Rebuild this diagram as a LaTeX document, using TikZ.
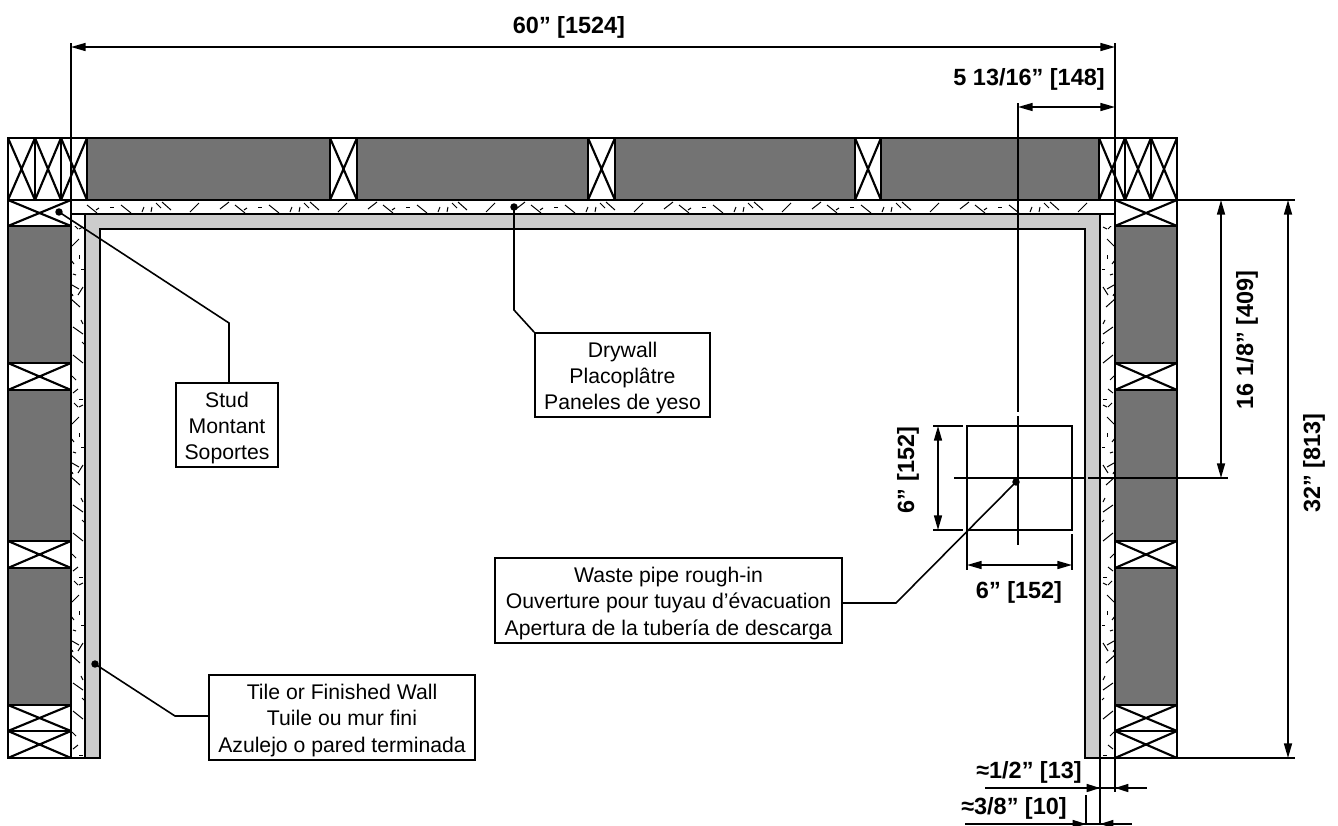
\documentclass[tikz,border=0pt]{standalone}
\usepackage{fontspec}
\setmainfont{Liberation Sans}
\usetikzlibrary{arrows.meta}
\definecolor{batt}{HTML}{737373}
\definecolor{tile}{HTML}{CCCCCC}
\tikzset{
  heavy/.style={line width=1.6pt,black},
  thin line/.style={line width=1.2pt,black},
  flick/.style={line width=0.75pt,black},
  dim/.style={line width=1.2pt,black,{Triangle[length=11pt,width=6pt]}-{Triangle[length=11pt,width=6pt]}},
  tipin/.style={line width=1.2pt,black,-{Triangle[length=10pt,width=6pt]}},
  leader/.style={line width=1.2pt,black},
  label box/.style={draw=black,line width=1.3pt,fill=white,align=center,inner sep=0pt,font=\fontsize{15.9}{19.6}\selectfont},
  dimtext/.style={font=\fontsize{17.6}{20}\selectfont\bfseries,inner sep=0pt},
  dot/.style={circle,fill=black,inner sep=0pt,minimum size=5.6pt},
}
\newcommand{\lstrut}{\rule{0pt}{16pt}}
\newcommand{\xbox}[4]{%
  \draw[heavy,fill=white] (#1,#2) rectangle (#3,#4);
  \draw[heavy] (#1,#2) -- (#3,#4) (#1,#4) -- (#3,#2);}
\newcommand{\batt}[4]{\draw[heavy,fill=batt] (#1,#2) rectangle (#3,#4);}
\newcommand{\flicks}{5/2/13/12, 26/1/30/5, 43/2/39/7, 53/3/57/7, 49/8/49/12, 57/8/55/12, 74/1/67/8, 83/8/87/8, 88/0/92/3, 97/10/97/13, 102/2/103/5, 113/1/117/8, 123/7/115/12, 122/1/124/2, 127/0/135/9, 148/10/152/12, 155/2/162/12, 170/11/172/13}
\newcommand{\topflicks}{18/12/27/3, 48/9/57/2, 63/5/73/13, 72/10/75/8, 86/7/90/7, 97/5/107/13, 118/12/120/7, 127/12/128/7, 132/3/137/8, 138/2/147/10}
\begin{document}
\begin{tikzpicture}[x=0.75pt,y=-0.75pt]
\useasboundingbox (0,0) rectangle (1338,825);
% drywall
\fill[white] (71,200) rectangle (1115,758);
% drywall flecks
\begin{scope}
  \clip (71,226) rectangle (85,758);
  \foreach \k in {-1,...,2}
    \foreach \a/\b/\c/\d in \flicks
      \draw[flick] (71+\b,350+\a+\k*178) -- (71+\d,350+\c+\k*178);
\end{scope}
\begin{scope}
  \clip (1100,226) rectangle (1115,758);
  \foreach \k in {-1,...,2}
    \foreach \a/\b/\c/\d in \flicks
      \draw[flick] (1115-\b,350+\a+\k*178) -- (1115-\d,350+\c+\k*178);
\end{scope}
\begin{scope}
  \clip (85,200) rectangle (1100,214);
  \foreach \k in {-2,...,5}
    \foreach \a/\b/\c/\d in \topflicks
      \draw[flick] (320+\a+\k*148,200+\b) -- (320+\c+\k*148,200+\d);
\end{scope}
% wall lines and tile
\draw[heavy] (71,200) -- (1115,200);
\draw[heavy,fill=tile] (85,758) -- (85,214) -- (1100,214) -- (1100,758) -- (1085,758) -- (1085,229) -- (100,229) -- (100,758) -- cycle;
\draw[heavy] (71,214) -- (85,214) (1100,214) -- (1115,214);
\draw[heavy] (71,200) -- (71,758) -- (85,758);
\draw[heavy] (1115,200) -- (1115,758) -- (1100,758);
% top band
\xbox{8}{138}{35}{200}\xbox{35}{138}{61}{200}\xbox{61}{138}{87}{200}
\batt{87}{138}{330}{200}
\xbox{330}{138}{357}{200}
\batt{357}{138}{588}{200}
\xbox{588}{138}{615}{200}
\batt{615}{138}{855}{200}
\xbox{855}{138}{881}{200}
\batt{881}{138}{1099}{200}
\xbox{1099}{138}{1125}{200}\xbox{1125}{138}{1151}{200}\xbox{1151}{138}{1177}{200}
% left wall
\xbox{8}{200}{71}{226}
\batt{8}{226}{71}{363}
\xbox{8}{363}{71}{390}
\batt{8}{390}{71}{541}
\xbox{8}{541}{71}{568}
\batt{8}{568}{71}{705}
\xbox{8}{705}{71}{731}\xbox{8}{731}{71}{758}
% right wall
\xbox{1115}{200}{1177}{226}
\batt{1115}{226}{1177}{363}
\xbox{1115}{363}{1177}{390}
\batt{1115}{390}{1177}{541}
\xbox{1115}{541}{1177}{568}
\batt{1115}{568}{1177}{705}
\xbox{1115}{705}{1177}{731}\xbox{1115}{731}{1177}{758}
% extension lines and dimensions
\coordinate (tl) at (71,47); \coordinate (tr) at (1115,47);
\draw[thin line] (71,43) -- (71,214);
\draw[thin line] (1115,43) -- (1115,200);
\draw[dim] (tl) -- (tr);
\node[dimtext] (d60) at (569,27) {60” [1524]};
\coordinate (pr) at (1115,107);
\draw[thin line] (1018,103) -- (1018,412) (1018,416) -- (1018,545);
\draw[dim] (1018,107) -- (pr);
\node[dimtext,anchor=east] (d513) at (1105,79) {5 13/16” [148]};
% square
\node[draw=black,line width=1.2pt,minimum width=78.75pt,minimum height=78pt,inner sep=0pt,fill=none] (sq) at (1019.5,478) {};
\draw[thin line] (954,478) -- (1084,478) (1088,478) -- (1228,478);
\draw[thin line] (1115,200) -- (1295,200);
\draw[thin line] (1100,758) -- (1295,758);
\draw[dim] (1221,200) -- (1221,478);
\draw[dim] (1288,200) -- (1288,758);
\node[dimtext,rotate=90] (d16) at (1247,340) {16 1/8” [409]};
\node[dimtext,rotate=90] (d32) at (1314,463) {32” [813]};
% square dims
\draw[thin line] (933,426) -- (963,426) (933,530) -- (963,530);
\draw[thin line] (967,530) -- (967,570) (1072,534) -- (1072,570);
\draw[dim] (938,426) -- (938,530);
\draw[dim] (967,565) -- (1072,565);
\node[dimtext,rotate=90] (d6v) at (908,470) {6” [152]};
\node[dimtext] (d6h) at (1019,592) {6” [152]};
% bottom dims
\draw[thin line] (1100,758) -- (1100,825) (1115,758) -- (1115,792) (1086,795) -- (1086,825);
\draw[thin line] (985,788) -- (1147,788) (965,824) -- (1132,824);
\draw[tipin] (1086,788) -- (1100,788);
\draw[tipin] (1130,788) -- (1115,788);
\draw[tipin] (1070,824) -- (1086,824);
\draw[tipin] (1115,824) -- (1100,824);
\node[dimtext,anchor=east] (d12) at (1082,772) {≈1/2” [13]};
\node[dimtext,anchor=east] (d38) at (1067,808) {≈3/8” [10]};
% label boxes
\node[label box,minimum width=76.5pt,minimum height=63pt] (stud) at (227,425) {\lstrut Stud\\Montant\\Soportes};
\node[label box,minimum width=131.25pt,minimum height=63pt] (dry) at (622.5,375) {\lstrut Drywall\\Placoplâtre\\Paneles de yeso};
\node[label box,minimum width=260.25pt,minimum height=63.75pt] (waste) at (668.5,600.5) {\lstrut Waste pipe rough-in\\Ouverture pour tuyau d’évacuation\\Apertura de la tubería de descarga};
\node[label box,minimum width=199.5pt,minimum height=64pt] (tilebox) at (342,717.5) {\lstrut Tile or Finished Wall\\Tuile ou mur fini\\Azulejo o pared terminada};
% leaders
\node[dot] (ds) at (59,212) {};
\node[dot] (dd) at (514,207) {};
\node[dot] (dw) at (1016,482) {};
\node[dot] (dt) at (95,664) {};
\draw[leader] (ds.center) -- (229,323) -- (229,383);
\draw[leader] (dd.center) -- (514,310) -- (dry.north west);
\draw[leader] (dw.center) -- (896,603) -- (waste.east |- 896,603);
\draw[leader] (dt.center) -- (175,716) -- (tilebox.west |- 175,716);
\end{tikzpicture}
\end{document}
